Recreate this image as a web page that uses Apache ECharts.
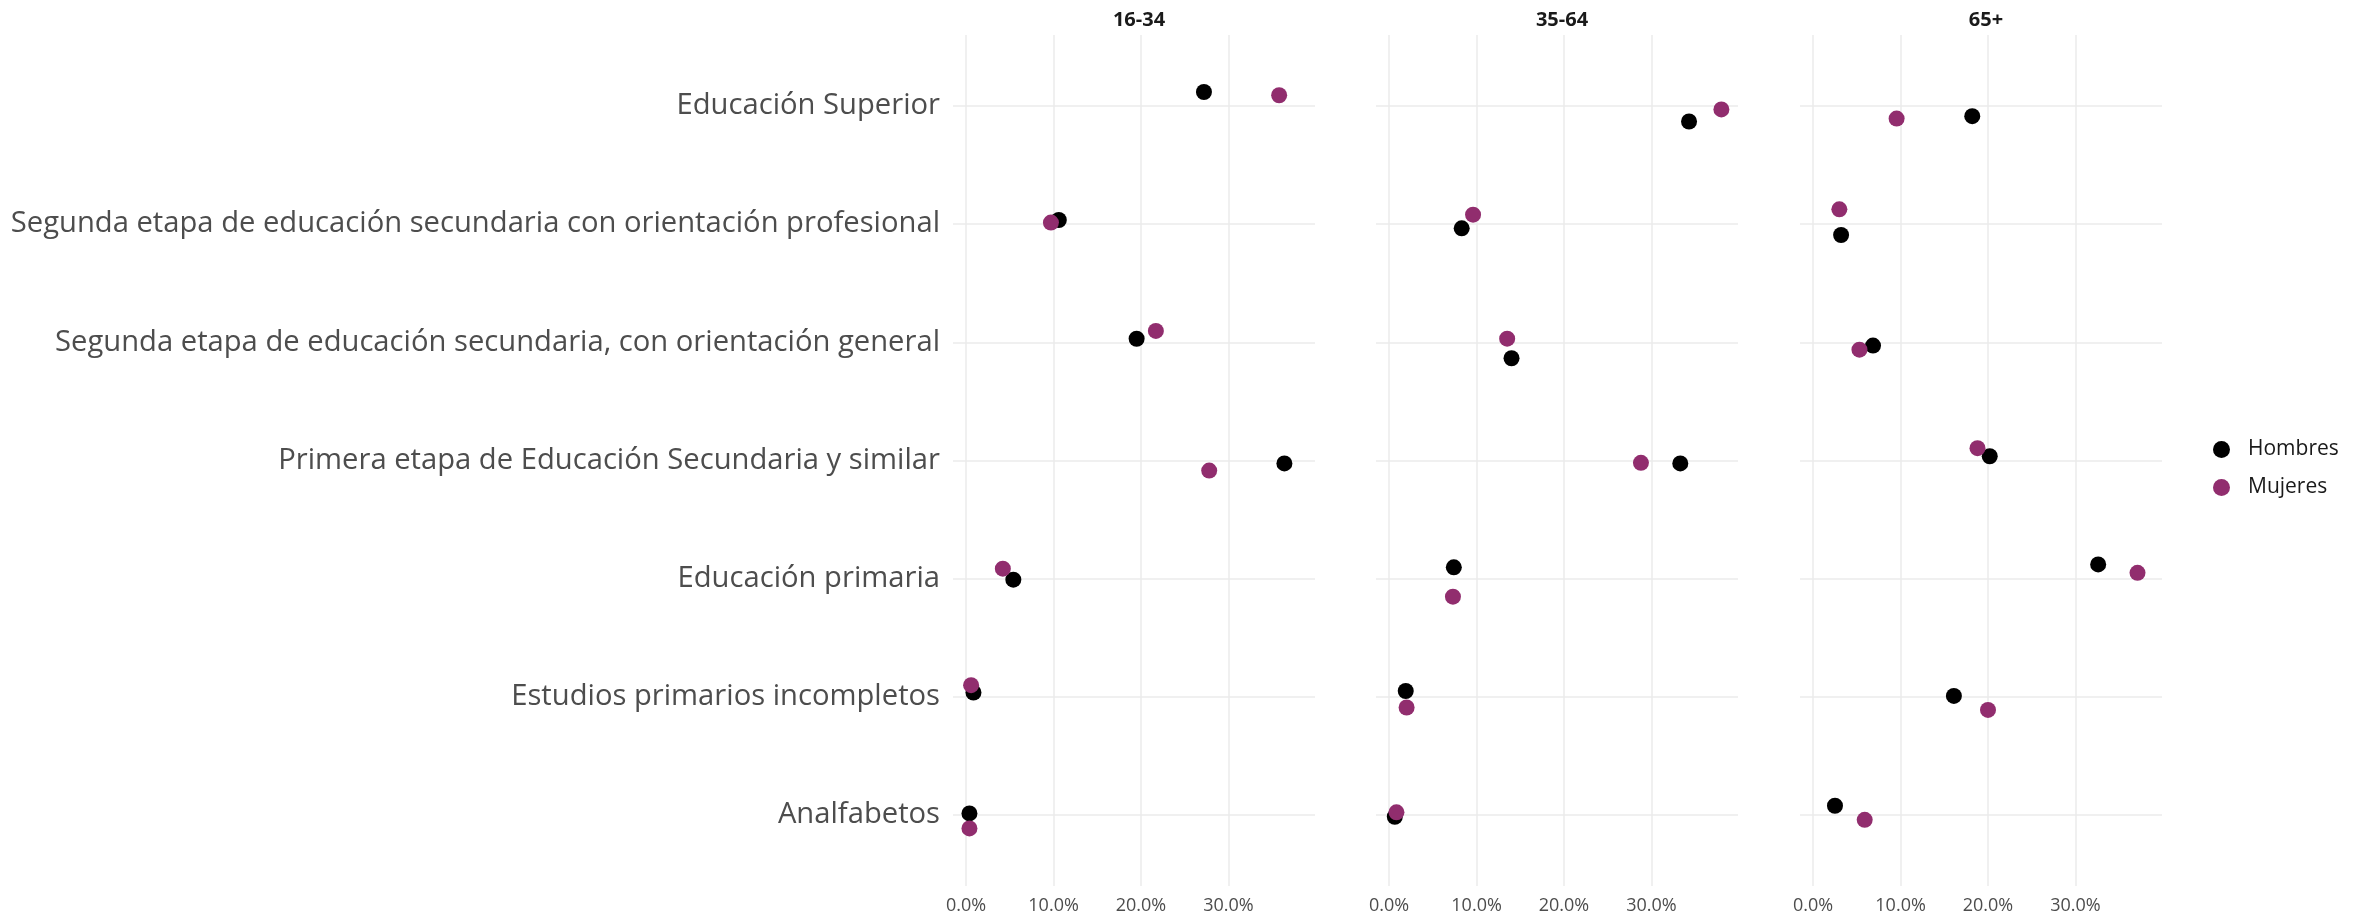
<!DOCTYPE html>
<html>
<head>
<meta charset="utf-8">
<script src="https://cdn.jsdelivr.net/npm/echarts@6/dist/echarts.min.js"></script>
<style>
html,body{margin:0;padding:0;background:#fff;}
#chart{width:2367px;height:917px;}
</style>
</head>
<body>
<div id="chart"></div>
<script>
// Categories, top to bottom as displayed
const categories = [
  'Educación Superior',
  'Segunda etapa de educación secundaria con orientación profesional',
  'Segunda etapa de educación secundaria, con orientación general',
  'Primera etapa de Educación Secundaria y similar',
  'Educación primaria',
  'Estudios primarios incompletos',
  'Analfabetos'
];
const panels = ['16-34', '35-64', '65+'];
const seriesNames = ['Hombres', 'Mujeres'];

// Percentages (%), same order as categories
const hombres_16_34 = [27.2, 10.6, 19.5, 36.4, 5.4, 0.84, 0.38];
const mujeres_16_34 = [35.8, 9.7, 21.7, 27.8, 4.2, 0.57, 0.38];
const hombres_35_64 = [34.3, 8.3, 14.0, 33.3, 7.4, 1.9, 0.65];
const mujeres_35_64 = [38.0, 9.6, 13.5, 28.8, 7.3, 2.0, 0.84];
const hombres_65 = [18.2, 3.2, 6.85, 20.2, 32.6, 16.1, 2.5];
const mujeres_65 = [9.55, 3.0, 5.3, 18.8, 37.1, 20.0, 5.9];

// Vertical jitter offsets (category units, + = up)
const jitH_16_34 = [0.118, 0.035, 0.03, -0.025, -0.008, 0.037, 0.014];
const jitM_16_34 = [0.09, 0.013, 0.096, -0.085, 0.085, 0.099, -0.113];
const jitH_35_64 = [-0.132, -0.036, -0.135, -0.025, 0.096, 0.05, -0.014];
const jitM_35_64 = [-0.03, 0.08, 0.031, -0.02, -0.152, -0.09, 0.023];
const jitH_65 = [-0.087, -0.092, -0.028, 0.036, 0.121, 0.008, 0.079];
const jitM_65 = [-0.107, 0.125, -0.062, 0.104, 0.05, -0.11, -0.04];

const xTicks = [0, 10, 20, 30];

const panelData = [
  [hombres_16_34, mujeres_16_34, jitH_16_34, jitM_16_34],
  [hombres_35_64, mujeres_35_64, jitH_35_64, jitM_35_64],
  [hombres_65, mujeres_65, jitH_65, jitM_65]
];

const colors = ['#000000', '#912D6E'];
const FONT = '"Open Sans", sans-serif';
const n = categories.length;

const gridLefts = [953, 1376, 1800];
const gridW = 362;
const grids = [], xAxes = [], yAxes = [], series = [], titles = [];

panels.forEach((p, k) => {
  grids.push({left: gridLefts[k], top: 35, width: gridW, height: 851, containLabel: false});
  titles.push({
    text: p, left: gridLefts[k] + gridW / 2, top: 5, textAlign: 'center',
    textStyle: {fontFamily: FONT, fontWeight: 'bold', fontSize: 20, color: '#1a1a1a'}
  });
  xAxes.push({
    type: 'value', gridIndex: k, min: -1.5, max: 39.9,
    minInterval: 10, maxInterval: 10,
    axisLine: {show: false}, axisTick: {show: false},
    axisLabel: {
      fontFamily: FONT, fontSize: 18, color: '#4d4d4d', margin: 11,
      showMinLabel: false, showMaxLabel: false,
      formatter: v => (xTicks.indexOf(Math.round(v)) >= 0 ? v.toFixed(1) + '%' : '')
    },
    splitLine: {show: true, showMinLine: false, showMaxLine: false, lineStyle: {color: '#ebebeb', width: 1.5}}
  });
  yAxes.push({
    type: 'value', gridIndex: k, min: -0.6, max: 6.6,
    minInterval: 1, maxInterval: 1,
    axisLine: {show: false}, axisTick: {show: false},
    axisLabel: {
      show: k === 0, fontFamily: FONT, fontSize: 29.2, color: '#4d4d4d', margin: 13,
      showMinLabel: false, showMaxLabel: false,
      formatter: v => {
        const i = n - 1 - Math.round(v);
        return (Math.abs(v - Math.round(v)) < 1e-6 && i >= 0 && i < n) ? categories[i] : '';
      }
    },
    splitLine: {show: true, showMinLine: false, showMaxLine: false, lineStyle: {color: '#ebebeb', width: 1.5}}
  });
  const d = panelData[k];
  [0, 1].forEach(s => {
    series.push({
      name: seriesNames[s], type: 'scatter', xAxisIndex: k, yAxisIndex: k,
      symbol: 'circle', symbolSize: 16,
      itemStyle: {color: colors[s], opacity: 1},
      emphasis: {disabled: true},
      data: d[s].map((v, i) => [v, (n - 1 - i) + d[s + 2][i]])
    });
  });
});

const chart = echarts.init(document.getElementById('chart'), null, {renderer: 'canvas'});
chart.setOption({
  animation: false,
  backgroundColor: '#ffffff',
  title: titles,
  grid: grids,
  xAxis: xAxes,
  yAxis: yAxes,
  legend: {
    data: seriesNames, orient: 'vertical', left: 2208, top: 434,
    icon: 'circle', itemWidth: 17, itemHeight: 17, itemGap: 17,
    textStyle: {fontFamily: FONT, fontSize: 21, color: '#1a1a1a', padding: [0, 0, 0, 13]}
  },
  series: series
});
</script>
</body>
</html>
